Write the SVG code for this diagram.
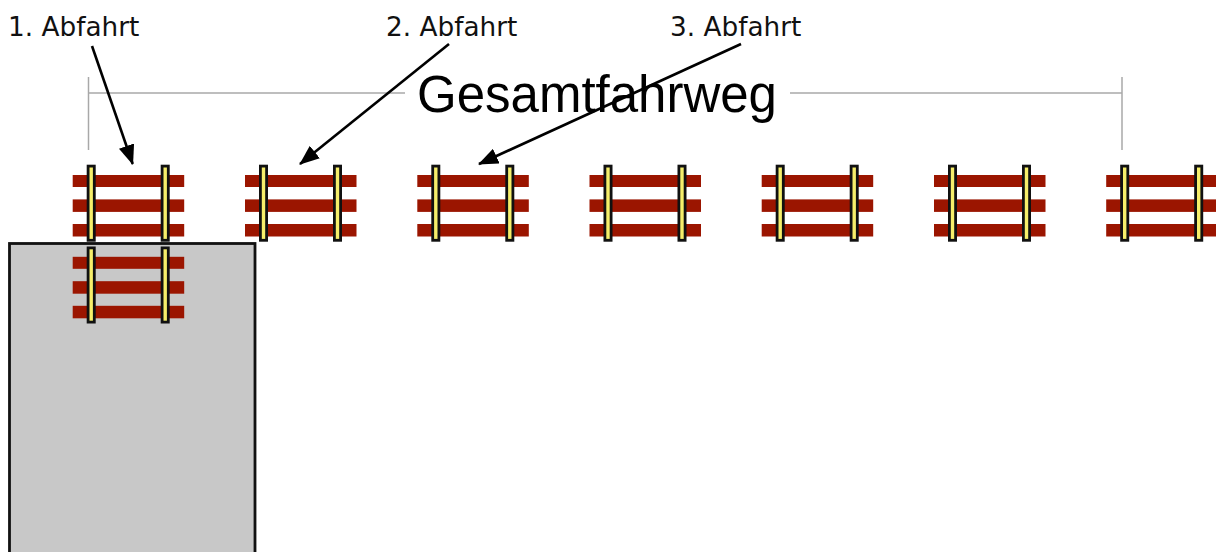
<svg xmlns="http://www.w3.org/2000/svg" xmlns:xlink="http://www.w3.org/1999/xlink" width="1216" height="552" viewBox="0 0 1216 552">
  <style>
    .sleeper { fill: #9b1500; }
    .rail { fill: #f6ee6a; stroke: #111; stroke-width: 2.8; }
    .dim { stroke: #a8a8a8; stroke-width: 1.5; fill: none; }
    .label { font-family: "DejaVu Sans", Verdana, sans-serif; font-size: 26.3px; fill: #111; }
    .title { font-family: "Liberation Sans", Arial, sans-serif; font-size: 51px; fill: #000; }
    .conn { stroke: #000; stroke-width: 2.6; fill: none; marker-end: url(#head); }
  </style>
  <defs>
    <marker id="head" viewBox="0 0 20 16" refX="19" refY="8" markerWidth="20" markerHeight="16" orient="auto" markerUnits="userSpaceOnUse">
      <path d="M0,0 L20,8 L0,16 Z" fill="#000"/>
    </marker>
    <!-- one piece of track: three sleepers and two rails -->
    <g id="track">
      <rect class="sleeper" x="0" y="10.3" width="111.5" height="12"/>
      <rect class="sleeper" x="0" y="34.7" width="111.5" height="12.5"/>
      <rect class="sleeper" x="0" y="59.3" width="111.5" height="12.5"/>
      <rect class="rail" x="15.4" y="1.4" width="6.2" height="74.2"/>
      <rect class="rail" x="89.4" y="1.4" width="6.2" height="74.2"/>
    </g>
  </defs>
  <rect width="1216" height="552" fill="#fff"/>

  <!-- overall route dimension -->
  <g id="route">
    <line class="dim" x1="88.5" y1="77" x2="88.5" y2="150"/>
    <line class="dim" x1="1122" y1="77" x2="1122" y2="150"/>
    <line class="dim" x1="88.5" y1="93" x2="405" y2="93"/>
    <line class="dim" x1="790" y1="93" x2="1122" y2="93"/>
    <text class="title" x="417" y="112">Gesamtfahrweg</text>
  </g>

  <!-- track pieces along the route -->
  <g id="track-row">
    <use xlink:href="#track" x="72.7" y="164.7"/>
    <use xlink:href="#track" x="245" y="164.7"/>
    <use xlink:href="#track" x="417.3" y="164.7"/>
    <use xlink:href="#track" x="589.5" y="164.7"/>
    <use xlink:href="#track" x="761.7" y="164.7"/>
    <use xlink:href="#track" x="934" y="164.7"/>
    <use xlink:href="#track" x="1106.2" y="164.7"/>
  </g>

  <!-- station block -->
  <g id="station">
    <rect x="9.5" y="243.5" width="245.5" height="330" fill="#c8c8c8" stroke="#111" stroke-width="2.8"/>
    <use xlink:href="#track" x="72.7" y="246.5"/>
  </g>

  <g id="label-1"><text class="label" x="8" y="35.5">1. Abfahrt</text></g>
  <g id="label-2"><text class="label" x="386" y="35.5">2. Abfahrt</text></g>
  <g id="label-3"><text class="label" x="670" y="35.5">3. Abfahrt</text></g>

  <g id="connectors">
    <line class="conn" x1="92" y1="46" x2="132.7" y2="164"/>
    <line class="conn" x1="449" y1="44" x2="300" y2="164"/>
    <line class="conn" x1="741" y1="44" x2="479" y2="164"/>
  </g>
</svg>
